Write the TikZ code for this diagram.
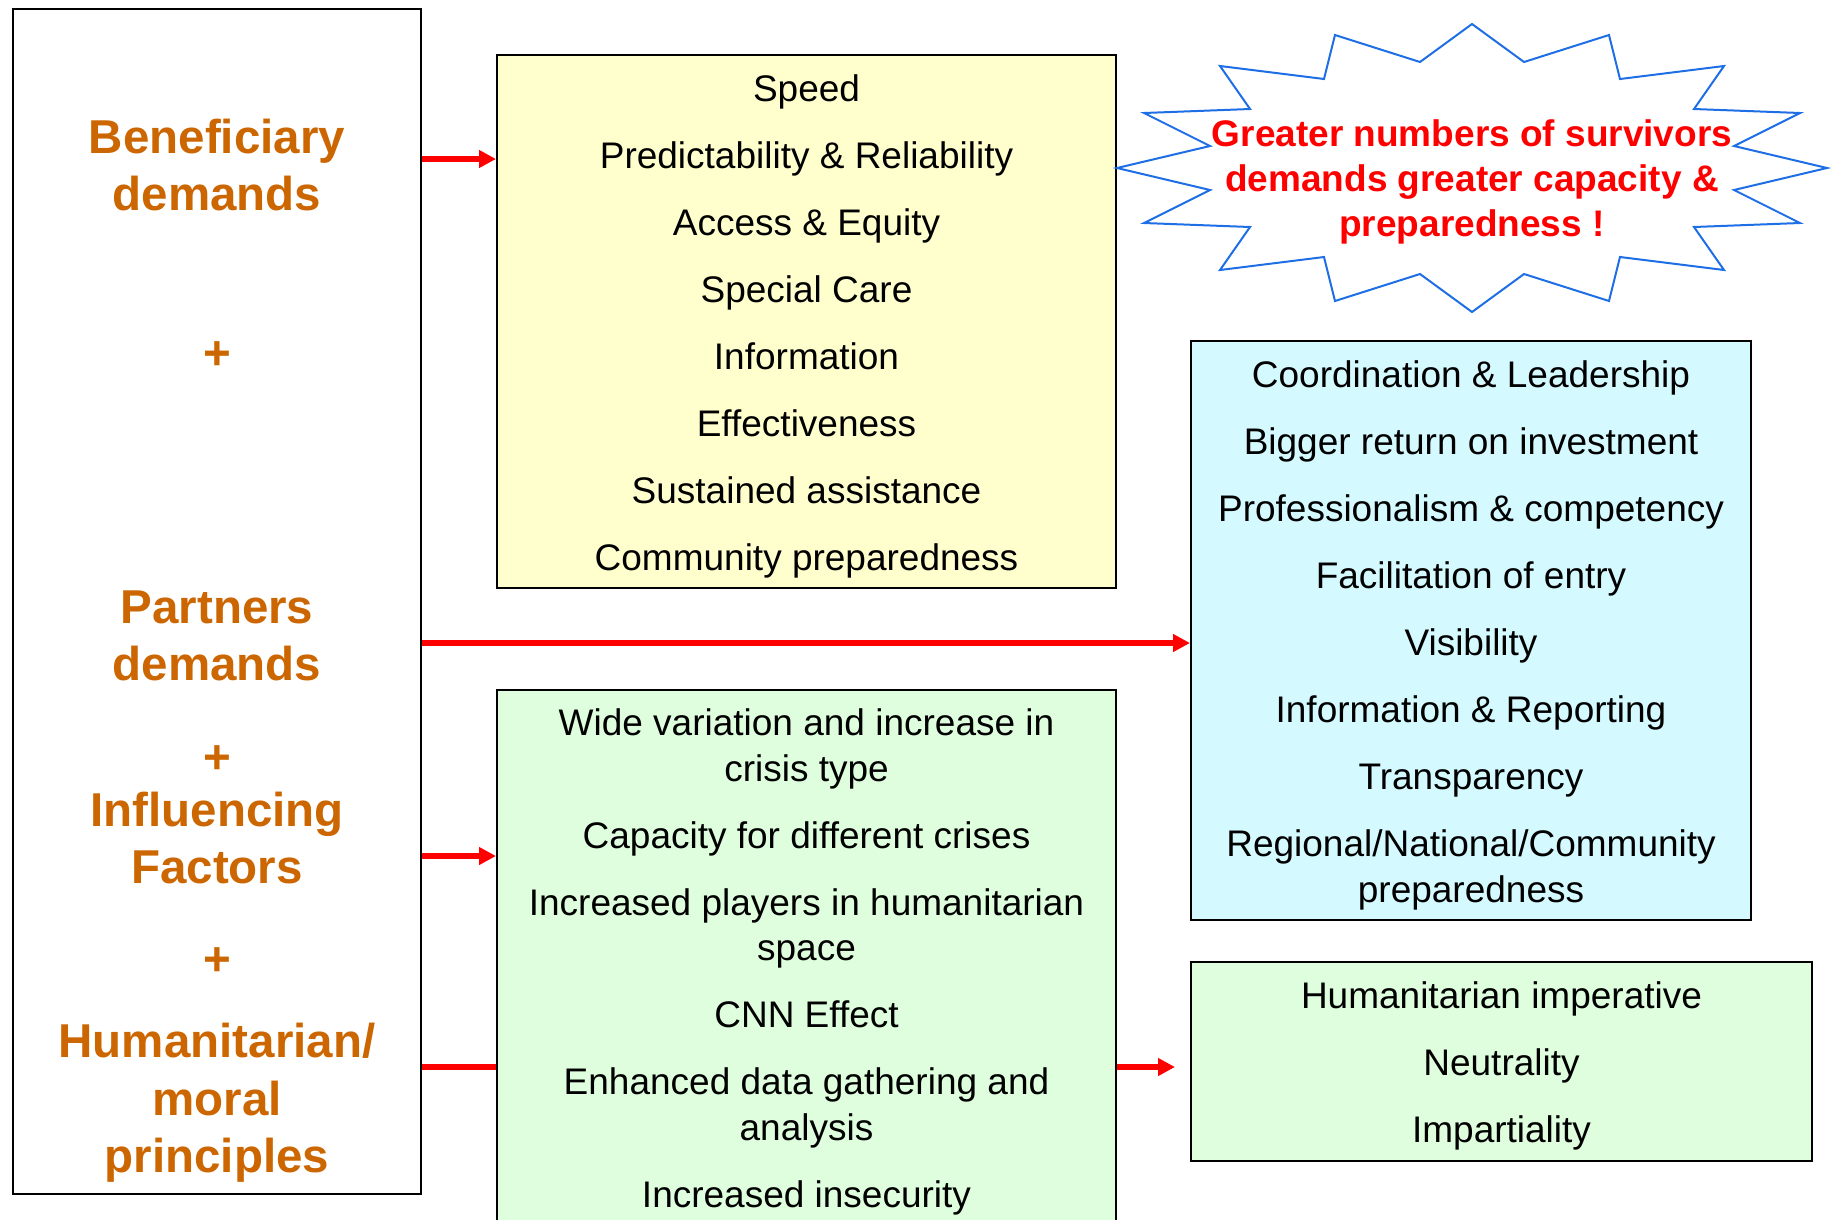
\documentclass[tikz,border=0pt]{standalone}
\usepackage{fontspec}
\setmainfont{Liberation Sans}
\usepackage{color}
\definecolor{myorange}{RGB}{204,102,0}
\definecolor{myred}{RGB}{255,0,0}
\definecolor{myblue}{RGB}{30,110,230}
\definecolor{myyellow}{RGB}{255,255,206}
\definecolor{mycyan}{RGB}{212,250,255}
\definecolor{mygreen}{RGB}{222,254,222}
\usepackage{tikz}
\usetikzlibrary{calc,arrows.meta,positioning}
\tikzstyle{framebox}=[draw,line width=2pt,inner sep=0pt]
\tikzstyle{itemtext}=[inner sep=0pt,align=center,font=\fontsize{37}{45.5}\selectfont]
\tikzstyle{sidetext}=[text=myorange,align=center,inner sep=0pt,font=\bfseries\fontsize{47.5}{57.5}\selectfont]
\tikzstyle{bursttext}=[text=myred,align=center,inner sep=0pt,font=\bfseries\fontsize{37}{45}\selectfont]
\tikzstyle{redline}=[draw=myred,line width=6pt]
\tikzstyle{redarrow}=[redline,-{Triangle[length=17pt,width=17pt]}]
\begin{document}
\begin{tikzpicture}[x=1pt,y=-1pt]
\useasboundingbox (0,0) rectangle (1833,1219);
% left column
\node [framebox,minimum width=408,minimum height=1185] (lbox) at (217,601.5) {};
\node [sidetext] (benef) at (217,165) {Beneficiary\\demands};
\node [sidetext] (plus1) at (217,355.5) {+};
\node [sidetext] (partners) at (217,636) {Partners\\demands};
\node [sidetext] (plus2) at (217,759.5) {+};
\node [sidetext] (influ) at (217,838) {Influencing\\Factors};
\node [sidetext] (plus3) at (217,961.5) {+};
\node [sidetext] (human) at (217,1103) {Humanitarian/\\moral\\principles};
% boxes
\node [framebox,fill=myyellow,minimum width=619,minimum height=533] (ybox) at (806.5,321.5) {};
\node [framebox,fill=mycyan,minimum width=560,minimum height=579] (cbox) at (1471,630.5) {};
\node [framebox,fill=mygreen,minimum width=619,minimum height=534] (gbox) at (806.5,957) {};
\node [framebox,fill=mygreen,minimum width=621,minimum height=199] (pbox) at (1501.5,1061.5) {};
\node [itemtext] (ytext) at ($(ybox)+(0,5)$)
  {Speed\\[21.5pt]Predictability \& Reliability\\[21.5pt]Access \& Equity\\[21.5pt]Special Care\\[21.5pt]Information\\[21.5pt]Effectiveness\\[21.5pt]Sustained assistance\\[21.5pt]Community preparedness};
\node [itemtext] (ctext) at ($(cbox)+(0,5)$)
  {Coordination \& Leadership\\[21.5pt]Bigger return on investment\\[21.5pt]Professionalism \& competency\\[21.5pt]Facilitation of entry\\[21.5pt]Visibility\\[21.5pt]Information \& Reporting\\[21.5pt]Transparency\\[21.5pt]Regional/National/Community\\preparedness};
\node [itemtext] (gtext) at ($(gbox)+(0,5)$)
  {Wide variation and increase in\\crisis type\\[21.5pt]Capacity for different crises\\[21.5pt]Increased players in humanitarian\\space\\[21.5pt]CNN Effect\\[21.5pt]Enhanced data gathering and\\analysis\\[21.5pt]Increased insecurity};
\node [itemtext] (ptext) at ($(pbox)+(0,4)$)
  {Humanitarian imperative\\[21.5pt]Neutrality\\[21.5pt]Impartiality};
% starburst
\coordinate (burst) at (1472,168);
\draw [myblue,line width=2pt,fill=white,shift={(burst)}]
  (0,-144) -- (52,-106) -- (137,-133) -- (148,-89) -- (252,-102) -- (222,-59) -- (328,-55) -- (262,-22)
  -- (355,0) -- (262,22) -- (328,55) -- (222,59) -- (252,102) -- (148,89) -- (137,133) -- (52,106)
  -- (0,144) -- (-52,106) -- (-137,133) -- (-148,89) -- (-252,102) -- (-222,59) -- (-328,55) -- (-262,22)
  -- (-355,0) -- (-262,-22) -- (-328,-55) -- (-222,-59) -- (-252,-102) -- (-148,-89) -- (-137,-133) -- (-52,-106) -- cycle;
\node [bursttext] (slogan) at ($(burst)+(0,14)$) {Greater numbers of survivors\\demands greater capacity \&\\preparedness !};
% arrows
\coordinate (b1) at (lbox.east |- 0,159);
\coordinate (b2) at (lbox.east |- 0,643);
\coordinate (b3) at (lbox.east |- 0,856);
\coordinate (b4) at (lbox.east |- 0,1067);
\coordinate (b5) at ($(b4 -| pbox.west)+(-15,0)$);
\draw [redarrow] (b1) -- (b1 -| ybox.west);
\draw [redarrow] (b2) -- (b2 -| cbox.west);
\draw [redarrow] (b3) -- (b3 -| gbox.west);
\draw [redline] (b4) -- (b4 -| gbox.west);
\draw [redarrow] (b4 -| gbox.east) -- (b5);
\end{tikzpicture}
\end{document}
